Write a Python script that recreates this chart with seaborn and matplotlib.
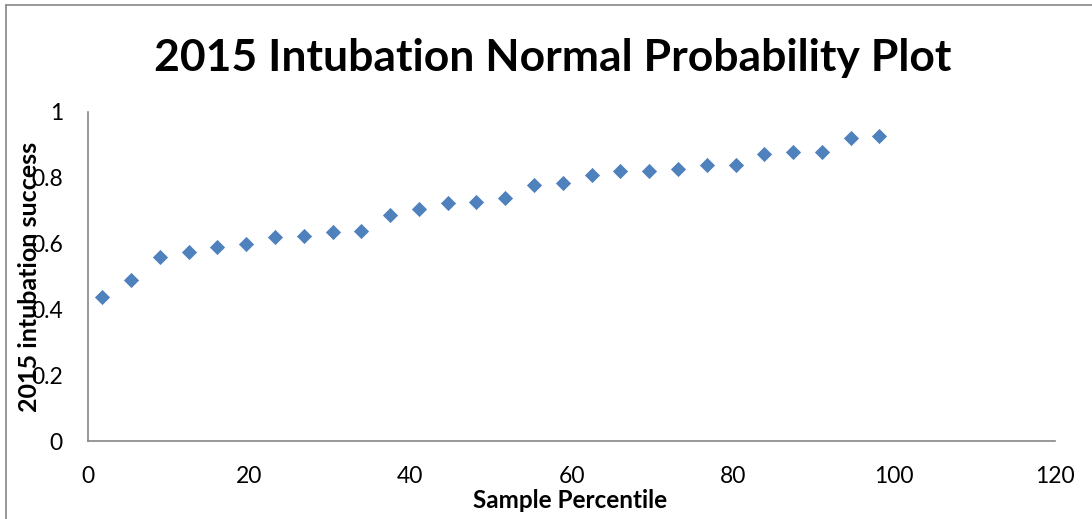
import matplotlib
matplotlib.use("Agg")
import matplotlib.pyplot as plt
import seaborn as sns
import pandas as pd
from matplotlib.lines import Line2D

# Data
percentile = [1.79, 5.36, 8.93, 12.50, 16.07, 19.64, 23.21, 26.79, 30.36, 33.93,
              37.50, 41.07, 44.64, 48.21, 51.79, 55.36, 58.93, 62.50, 66.07, 69.64,
              73.21, 76.79, 80.36, 83.93, 87.50, 91.07, 94.64, 98.21]
success = [0.437, 0.489, 0.558, 0.575, 0.589, 0.598, 0.619, 0.623, 0.636, 0.638,
           0.688, 0.704, 0.724, 0.726, 0.739, 0.778, 0.783, 0.809, 0.820, 0.821,
           0.827, 0.838, 0.840, 0.871, 0.878, 0.878, 0.920, 0.928]
xticks = [0, 20, 40, 60, 80, 100, 120]
yticks = [0, 0.2, 0.4, 0.6, 0.8, 1.0]
ytick_labels = ["0", "0.2", "0.4", "0.6", "0.8", "1"]

df = pd.DataFrame({"Sample Percentile": percentile, "2015 intubation success": success})

sns.set_style("white")
plt.rcParams['font.family'] = ['Lato', 'DejaVu Sans']
plt.rcParams['text.color'] = 'black'

W, H = 1092, 519
fig = plt.figure(figsize=(W / 100, H / 100), dpi=100)
ax = fig.add_axes([88 / W, 1 - 441 / H, (1055 - 88) / W, (441 - 112) / H])

sns.scatterplot(data=df, x="Sample Percentile", y="2015 intubation success",
                marker="D", s=60, color="#4F81BD", linewidth=0, ax=ax, clip_on=False)

ax.set_xlim(0, 120)
ax.set_ylim(0, 1)
ax.set_xticks(xticks)
ax.set_xticklabels([str(t) for t in xticks])
ax.set_yticks(yticks)
ax.set_yticklabels(ytick_labels)

gray = "#868686"
for side in ["top", "right"]:
    ax.spines[side].set_visible(False)
for side in ["left", "bottom"]:
    ax.spines[side].set_visible(True)
    ax.spines[side].set_color(gray)
    ax.spines[side].set_linewidth(1.2)

ax.tick_params(axis="both", which="major", direction="out", length=6, width=1.2,
               color=gray, labelsize=16.5, labelcolor="black")
ax.tick_params(axis="x", pad=12)
ax.tick_params(axis="y", pad=12)
ax.grid(False)

ax.set_xlabel("")
ax.set_ylabel("")
fig.text(570 / W, 1 - 500 / H, "Sample Percentile", ha="center", va="center",
         fontsize=17.5, fontweight="bold", color="black")
fig.text(30 / W, 1 - 277 / H, "2015 intubation success", ha="center", va="center",
         rotation=90, fontsize=18, fontweight="bold", color="black")
fig.text(553 / W, 1 - 58 / H, "2015 Intubation Normal Probability Plot",
         ha="center", va="center", fontsize=32, fontweight="bold", color="black")

# chart border
fig.add_artist(Line2D([6 / W, 1.0], [1 - 5 / H, 1 - 5 / H], transform=fig.transFigure,
                      color=gray, lw=1.2))
fig.add_artist(Line2D([6 / W, 6 / W], [0, 1 - 5 / H], transform=fig.transFigure,
                      color=gray, lw=1.2))

fig.savefig("out.png", dpi=100)
